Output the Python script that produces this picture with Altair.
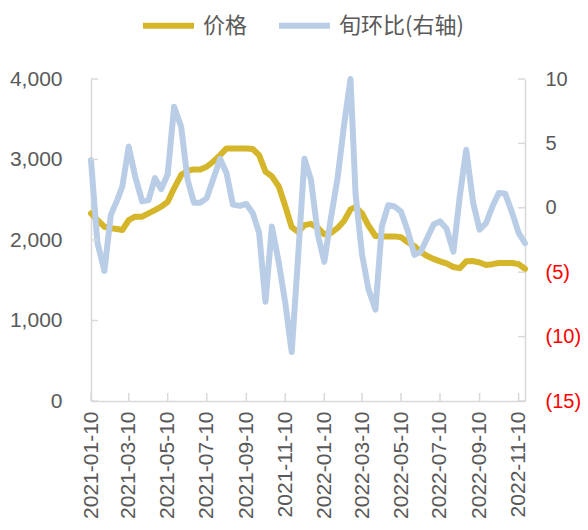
import altair as alt
import pandas as pd

# ---- data ----
dates = [
    "2021-01-10", "2021-01-20", "2021-01-31", "2021-02-10", "2021-02-20", "2021-02-28",
    "2021-03-10", "2021-03-20", "2021-03-31", "2021-04-10", "2021-04-20", "2021-04-30",
    "2021-05-10", "2021-05-20", "2021-05-31", "2021-06-10", "2021-06-20", "2021-06-30",
    "2021-07-10", "2021-07-20", "2021-07-31", "2021-08-10", "2021-08-20", "2021-08-31",
    "2021-09-10", "2021-09-20", "2021-09-30", "2021-10-10", "2021-10-20", "2021-10-31",
    "2021-11-10", "2021-11-20", "2021-11-30", "2021-12-10", "2021-12-20", "2021-12-31",
    "2022-01-10", "2022-01-20", "2022-01-31", "2022-02-10", "2022-02-20", "2022-02-28",
    "2022-03-10", "2022-03-20", "2022-03-31", "2022-04-10", "2022-04-20", "2022-04-30",
    "2022-05-10", "2022-05-20", "2022-05-31", "2022-06-10", "2022-06-20", "2022-06-30",
    "2022-07-10", "2022-07-20", "2022-07-31", "2022-08-10", "2022-08-20", "2022-08-31",
    "2022-09-10", "2022-09-20", "2022-09-30", "2022-10-10", "2022-10-20", "2022-10-31",
    "2022-11-10", "2022-11-20",
]

price = [
    2330, 2248, 2165, 2145, 2136, 2124, 2248, 2290, 2290, 2331,
    2372, 2414, 2475, 2642, 2807, 2860, 2877, 2877, 2910, 2972,
    3055, 3138, 3138, 3138, 3138, 3130, 3055, 2850, 2790, 2662,
    2420, 2160, 2100, 2185, 2200, 2150, 2070, 2085, 2150, 2240,
    2380, 2410, 2330, 2180, 2050, 2045, 2045, 2045, 2035, 1975,
    1925, 1850, 1800, 1765, 1735, 1710, 1665, 1650, 1735, 1738,
    1720, 1690, 1700, 1715, 1715, 1715, 1700, 1640,
]

ratio = [
    3.7, -2.7, -4.9, -0.55, 0.6, 1.65, 4.75, 2.45, 0.5, 0.6,
    2.3, 1.45, 2.6, 7.85, 6.3, 2.2, 0.4, 0.4, 0.75, 2.2,
    3.8, 2.7, 0.25, 0.15, 0.3, -0.4, -1.95, -7.3, -1.45, -4.3,
    -7.4, -11.2, -3.8, 3.8, 2.2, -2.1, -4.2, -0.9, 2.4, 6.45,
    10.0, 1.0, -3.6, -6.3, -7.9, -1.45, 0.2, 0.1, -0.3, -1.7,
    -3.65, -3.4, -2.35, -1.3, -1.05, -1.6, -3.4, 0.9, 4.5, 0.35,
    -1.7, -1.2, 0.1, 1.15, 1.1, -0.4, -1.95, -2.75,
]

series_names = ["价格", "旬环比(右轴)"]
series_colors = ["#D5B62B", "#B9CEE6"]

x_ticks = [
    "2021-01-10", "2021-03-10", "2021-05-10", "2021-07-10", "2021-09-10", "2021-11-10",
    "2022-01-10", "2022-03-10", "2022-05-10", "2022-07-10", "2022-09-10", "2022-11-10",
]
left_ticks = [0, 1000, 2000, 3000, 4000]
right_ticks = [-15, -10, -5, 0, 5, 10]

# ---- tables ----
df_price = pd.DataFrame({"date": pd.to_datetime(dates), "value": price, "series": series_names[0]})
df_ratio = pd.DataFrame({"date": pd.to_datetime(dates), "value": ratio, "series": series_names[1]})
df_xt = pd.DataFrame({"date": pd.to_datetime(x_ticks)})
df_lt = pd.DataFrame({"v": left_ticks})
df_rt = pd.DataFrame({"v": right_ticks})

AX = "#D9D9D9"
TXT = "#595959"
NUMFONT = "Liberation Sans"
CJK = "Noto Sans CJK SC"

x_scale = alt.Scale(domain=[alt.DateTime(year=2021, month=1, date=10),
                            alt.DateTime(year=2022, month=11, date=20)])
x_axis = alt.Axis(
    values=[alt.DateTime(year=int(d[:4]), month=int(d[5:7]), date=int(d[8:])) for d in x_ticks],
    format="%Y-%m-%d", labelAngle=270, labelFont=NUMFONT, labelFontSize=21,
    labelColor=TXT, labelPadding=10, ticks=False, grid=False, domainColor=AX,
    domainWidth=1.5, title=None, labelOverlap=False, labelBound=False, labelFlush=False,
)

color = alt.Color(
    "series:N",
    scale=alt.Scale(domain=series_names, range=series_colors),
    legend=alt.Legend(
        orient="none", legendX=49, legendY=-82, direction="horizontal", title=None,
        symbolType="stroke", symbolStrokeWidth=6, symbolSize=2601,
        labelFont=CJK, labelFontSize=22, labelColor=TXT, columnPadding=19,
        labelOffset=6, padding=0,
    ),
)

y_price = alt.Y(
    "value:Q",
    scale=alt.Scale(domain=[0, 4000]),
    axis=alt.Axis(values=left_ticks, format=",d", ticks=False, grid=False,
                  domainColor=AX, domainWidth=1.5, labelFont=NUMFONT, labelFontSize=21,
                  labelColor=TXT, labelPadding=29, title=None),
)
y_ratio = alt.Y(
    "value:Q",
    scale=alt.Scale(domain=[-15, 10]),
    axis=alt.Axis(values=right_ticks, orient="right", ticks=False, grid=False,
                  domainColor=AX, domainWidth=1.5, labelFont=NUMFONT, labelFontSize=20,
                  labelColor=alt.condition("datum.value < 0", alt.value("#FF0000"), alt.value(TXT)),
                  labelExpr="datum.value < 0 ? '(' + abs(datum.value) + ')' : datum.value",
                  labelPadding=20, labelAlign="left", title=None),
)

line_price = alt.Chart(df_price).mark_line(strokeWidth=6, strokeJoin="round", strokeCap="round").encode(
    x=alt.X("date:T", scale=x_scale, axis=x_axis), y=y_price, color=color)
line_ratio = alt.Chart(df_ratio).mark_line(strokeWidth=6, strokeJoin="round", strokeCap="round").encode(
    x=alt.X("date:T", scale=x_scale, axis=x_axis), y=y_ratio, color=color)

tick_x = alt.Chart(df_xt).mark_rule(color=AX, strokeWidth=1.5).encode(
    x=alt.X("date:T", scale=x_scale, axis=x_axis), y=alt.value(314), y2=alt.value(322))
tick_l = alt.Chart(df_lt).mark_rule(color=AX, strokeWidth=1.5).encode(
    y=alt.Y("v:Q", scale=alt.Scale(domain=[0, 4000]), axis=None), x=alt.value(0), x2=alt.value(7))
tick_r = alt.Chart(df_rt).mark_rule(color=AX, strokeWidth=1.5).encode(
    y=alt.Y("v:Q", scale=alt.Scale(domain=[-15, 10]), axis=None), x=alt.value(427), x2=alt.value(434))

chart = alt.layer(line_price, line_ratio, tick_x, tick_l, tick_r).resolve_scale(
    y="independent"
).properties(
    width=434, height=322,
    autosize=alt.AutoSizeParams(type="none"),
    padding={"left": 83, "top": 71, "right": 55, "bottom": 120},
).configure_view(stroke=None).configure_axisX(labelOverlap=False)

chart.save("out.html", embed_options={"renderer": "svg", "actions": False})
